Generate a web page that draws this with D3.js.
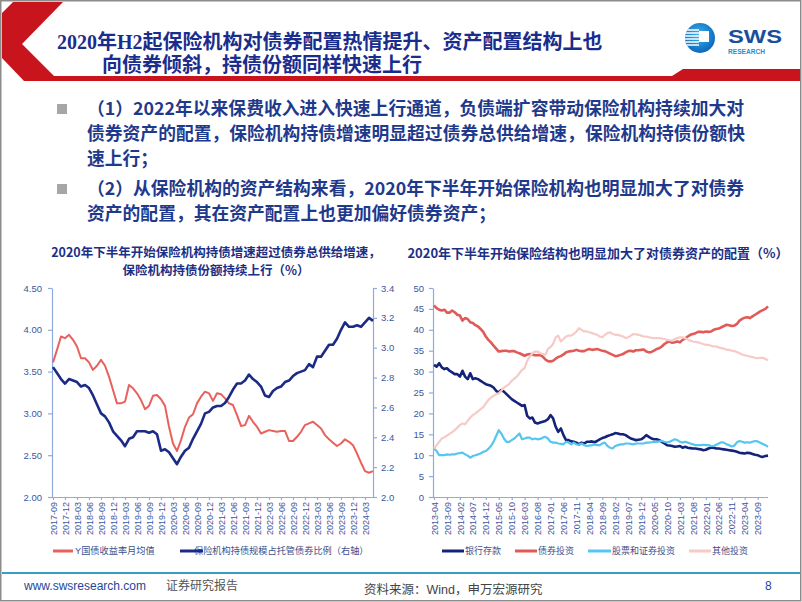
<!DOCTYPE html>
<html><head><meta charset="utf-8">
<script src="https://cdn.jsdelivr.net/npm/d3@7"></script>
<style>
html,body{margin:0;padding:0;background:#fff;}
svg{display:block;}
</style></head><body>
<svg id="c" width="802" height="602" font-family="'Liberation Sans','Noto Sans CJK SC',sans-serif"></svg>
<script>
// ---------------- DATA ----------------
const titleLines = ["2020年H2起保险机构对债券配置热情提升、资产配置结构上也", "向债券倾斜，持债份额同样快速上行"];
const bullet1 = ["（1）2022年以来保费收入进入快速上行通道，负债端扩容带动保险机构持续加大对",
                 "债券资产的配置，保险机构持债增速明显超过债券总供给增速，保险机构持债份额快",
                 "速上行；"];
const bullet2 = ["（2）从保险机构的资产结构来看，2020年下半年开始保险机构也明显加大了对债券",
                 "资产的配置，其在资产配置上也更加偏好债券资产；"];
const leftTitle = ["2020年下半年开始保险机构持债增速超过债券总供给增速，", "保险机构持债份额持续上行（%）"];
const rightTitle = "2020年下半年开始保险结构也明显加大了对债券资产的配置（%）";

const fmtMonth = d3.timeFormat("%Y-%m");
// left chart categories: monthly 2017-09 .. 2024-05
const leftMonths = d3.range(81).map(i => fmtMonth(new Date(2017, 8 + i, 1)));
// right chart categories: monthly 2013-04 .. 2024-01
const rightMonths = d3.range(130).map(i => fmtMonth(new Date(2013, 3 + i, 1)));

const leftSeriesNames = ["Y国债收益率月均值", "保险机构持债规模占托管债券比例（右轴）"];
const cgbYield = [3.61,3.76,3.92,3.90,3.94,3.88,3.80,3.66,3.66,3.61,
  3.52,3.57,3.64,3.57,3.44,3.28,3.12,3.12,3.14,3.34,
  3.30,3.24,3.16,3.05,3.09,3.21,3.22,3.17,3.09,2.84,
  2.64,2.55,2.68,2.84,2.95,2.99,3.12,3.20,3.26,3.24,
  3.15,3.24,3.23,3.18,3.12,3.10,2.98,2.85,2.86,2.97,
  2.90,2.84,2.76,2.78,2.80,2.79,2.78,2.79,2.79,2.67,
  2.67,2.72,2.78,2.86,2.88,2.90,2.86,2.82,2.74,2.69,
  2.65,2.61,2.64,2.69,2.66,2.62,2.52,2.41,2.31,2.29,2.31];
const insurerShare = [2.87,2.83,2.79,2.76,2.79,2.78,2.77,2.74,2.75,2.73,
  2.68,2.62,2.56,2.54,2.50,2.44,2.41,2.38,2.34,2.39,
  2.40,2.44,2.44,2.44,2.43,2.44,2.42,2.31,2.32,2.30,
  2.26,2.22,2.27,2.31,2.33,2.39,2.44,2.49,2.56,2.57,
  2.60,2.61,2.61,2.63,2.67,2.72,2.76,2.76,2.78,2.82,
  2.79,2.77,2.74,2.68,2.67,2.71,2.73,2.74,2.77,2.78,
  2.81,2.83,2.84,2.85,2.89,2.87,2.94,2.94,2.98,3.02,
  3.02,3.06,3.12,3.17,3.14,3.14,3.15,3.14,3.17,3.20,3.18];
const leftTicks = [2.0,2.5,3.0,3.5,4.0,4.5];
const rightAxisTicks = [2.0,2.2,2.4,2.6,2.8,3.0,3.2,3.4];

const rightSeriesNames = ["银行存款", "债券投资", "股票和证券投资", "其他投资"];
const bankDeposit = [31.6,31.2,32.0,31.0,30.6,30.8,30.2,29.8,29.4,29.4,
  28.8,30.2,28.8,28.2,29.6,28.2,28.4,28.2,27.8,27.4,
  27.0,26.8,26.6,26.2,25.4,25.0,25.6,25.2,24.6,24.0,
  23.4,23.0,22.6,22.2,21.8,22.0,19.4,18.8,19.0,17.8,
  17.6,17.8,18.0,18.2,18.6,19.6,18.8,16.8,15.6,16.4,
  14.8,13.6,13.6,13.3,13.2,13.0,12.6,13.0,12.8,13.2,
  13.2,13.3,13.1,13.4,13.8,14.1,14.3,14.6,14.8,15.0,
  15.3,15.2,15.0,15.0,14.8,14.4,14.0,13.8,13.6,13.7,
  13.8,14.2,14.8,14.4,14.0,13.8,13.8,13.6,13.2,12.8,
  12.4,12.3,12.2,12.0,12.1,12.2,11.8,12.0,11.8,11.7,
  11.6,11.6,11.5,11.4,11.2,11.3,11.6,11.8,11.8,11.6,
  11.6,11.5,11.4,11.3,11.2,11.1,11.0,10.8,10.6,10.5,
  10.4,10.6,10.5,10.3,10.1,10.0,9.7,9.6,9.8,9.9];
const bondInvest = [45.8,45.2,44.8,44.6,44.8,44.1,44.1,44.6,44.2,43.6,
  43.4,42.2,42.8,42.6,41.8,41.6,41.1,40.8,40.2,39.5,
  38.4,37.6,37.0,36.2,35.5,34.8,34.9,35.0,35.0,34.8,
  34.9,34.9,34.6,34.4,34.1,33.8,34.1,34.2,34.1,33.9,
  33.9,34.0,33.6,32.9,32.5,32.4,32.6,33.1,33.5,33.7,
  34.1,34.6,34.8,34.9,35.0,35.2,35.0,34.9,34.9,35.2,
  35.4,35.2,35.3,35.4,35.2,35.0,34.9,34.6,34.3,34.0,
  33.7,33.8,34.0,34.2,34.6,34.9,35.0,34.8,35.1,35.1,
  35.2,35.3,34.8,34.6,34.7,35.0,35.4,35.6,36.0,36.6,
  37.0,37.2,36.9,37.0,37.2,37.0,37.6,37.9,38.4,38.8,
  39.0,39.2,39.5,39.5,39.4,39.6,39.5,39.6,40.0,40.2,
  40.3,40.6,40.9,41.2,41.1,40.9,41.0,41.4,42.2,42.6,
  42.9,43.0,42.8,43.2,43.6,44.0,44.4,44.7,45.0,45.6];
const stockInvest = [11.6,11.0,10.0,10.0,10.0,10.2,10.1,10.2,10.2,10.4,
  10.5,10.6,10.2,9.9,9.4,9.8,10.0,10.2,10.4,10.8,
  11.0,11.5,12.2,13.2,14.6,16.0,15.2,14.0,13.2,13.2,
  13.6,14.0,14.6,15.2,13.8,14.0,14.2,14.2,13.8,14.0,
  13.8,13.9,14.2,14.4,14.0,13.2,13.0,13.0,12.8,12.7,
  12.6,13.2,13.0,12.6,13.0,12.6,12.5,12.8,12.4,12.2,
  12.3,12.4,12.6,12.4,12.4,12.8,13.0,12.2,11.8,11.6,
  12.2,12.4,12.6,12.6,12.8,12.8,12.7,12.6,12.8,12.8,
  12.8,12.8,13.0,13.0,13.1,13.2,13.2,13.3,13.4,13.2,
  13.1,13.2,13.5,13.8,13.6,13.2,13.0,13.2,13.0,12.8,
  12.6,12.4,12.4,12.4,12.5,12.4,12.4,12.2,12.2,12.5,
  12.8,13.1,13.0,12.6,12.4,12.1,12.3,13.1,13.4,13.2,
  13.0,13.1,13.0,13.2,13.4,13.3,13.0,12.7,12.4,12.0];
const otherInvest = [11.6,12.4,13.2,14.0,14.3,14.7,15.1,15.5,16.0,16.6,
  17.2,17.6,17.4,18.2,19.0,19.6,20.0,20.5,21.0,21.5,
  22.4,23.2,23.8,24.2,24.6,24.8,25.4,26.2,26.6,27.0,
  27.8,28.3,28.8,29.6,30.4,30.8,32.6,33.6,34.4,34.8,
  34.8,34.4,34.2,34.0,35.4,35.9,36.6,38.2,38.6,37.2,
  37.8,38.4,38.6,38.6,39.0,39.6,40.4,40.0,39.6,39.6,
  39.4,39.2,39.0,38.8,38.4,38.2,38.8,39.2,39.4,39.0,
  38.8,38.8,38.6,38.4,38.0,38.2,38.6,39.0,38.9,38.8,
  38.6,38.4,38.4,38.2,38.1,38.0,38.0,38.0,37.9,37.8,
  37.6,37.5,37.4,37.8,38.0,38.2,38.2,38.0,37.7,37.4,
  37.2,37.1,37.0,36.8,36.6,36.4,36.4,36.2,36.0,36.0,
  35.8,35.6,35.5,35.2,35.2,35.0,34.9,34.7,34.4,34.1,
  33.9,33.8,33.6,33.5,33.3,33.2,33.3,33.3,33.0,32.7];
const rightTicks = [0,5,10,15,20,25,30,35,40,45,50];

// ---------------- DRAW ----------------
const svg = d3.select("#c");
const navyText = "#1c2f86";
const tickColor = "#3d56a0";
const axisColor = "#8faadc";
const cjk = "'Noto Sans CJK SC',sans-serif";

// slide border
svg.append("rect").attr("x",0.75).attr("y",0.75).attr("width",800).attr("height",600)
  .attr("fill","#fff").attr("stroke","#8c8c8c").attr("stroke-width",1.5);

// header red shape
svg.append("path")
  .attr("d", d3.line()([[13,2],[63,2],[22,44],[54,76],[672,76],[683,69],[800,69],[800,81],[24,81],[2,58],[2,13]]) + "Z")
  .attr("fill","#c8141c");

// title
titleLines.forEach((t,i) => svg.append("text").attr("x", i===0 ? 57 : 102).attr("y", 49 + i*23).text(t)
  .style("font-family","'Liberation Serif','Noto Sans CJK SC',serif").attr("font-weight","bold")
  .attr("font-size",20).attr("fill","#1a2d8c"));

// logo
const defs = svg.append("defs");
const rg = defs.append("radialGradient").attr("id","lg").attr("cx","45%").attr("cy","40%").attr("r","60%");
rg.append("stop").attr("offset","0%").attr("stop-color","#3fb4ee");
rg.append("stop").attr("offset","100%").attr("stop-color","#0b68bd");
defs.append("clipPath").attr("id","logoclip").append("circle").attr("cx",700).attr("cy",38).attr("r",15);
svg.append("circle").attr("cx",700).attr("cy",38).attr("r",15).attr("fill","url(#lg)");
const lgG = svg.append("g").attr("clip-path","url(#logoclip)");
[30,33,36,39,42,45].forEach(y => lgG.append("line").attr("x1",684).attr("x2",699).attr("y1",y).attr("y2",y)
  .attr("stroke","#fff").attr("stroke-width",1.3));
lgG.append("rect").attr("x",699).attr("y",31).attr("width",10).attr("height",11).attr("fill","#fff");
svg.append("text").attr("x",728).attr("y",43).text("SWS").attr("font-weight","bold").attr("font-size",19)
  .attr("textLength",54).attr("lengthAdjust","spacingAndGlyphs").attr("fill","#1a4f9c");
svg.append("text").attr("x",728).attr("y",54).text("RESEARCH").attr("font-weight","bold").attr("font-size",6.5)
  .attr("textLength",37).attr("lengthAdjust","spacingAndGlyphs").attr("fill","#1e8fd6");

// bullets
function bullet(lines, y0) {
  svg.append("rect").attr("x",57).attr("y",y0-5).attr("width",10).attr("height",10).attr("fill","#a6a6a6");
  lines.forEach((t,i) => svg.append("text").attr("x",87).attr("y",y0+i*25).attr("dy","0.36em")
    .text(t).attr("font-size",17.8).attr("font-weight","bold").attr("fill","#1f3a8c")
    .style("font-family",cjk));
}
bullet(bullet1, 109);
bullet(bullet2, 189);

// chart titles
leftTitle.forEach((t,i) => svg.append("text").attr("x",216).attr("y",252+i*18.4).attr("dy","0.36em")
  .attr("text-anchor","middle").text(t).attr("font-size",12.5).attr("font-weight","bold").attr("fill",navyText)
  .style("font-family",cjk));
svg.append("text").attr("x",598).attr("y",253).attr("dy","0.36em").attr("text-anchor","middle")
  .text(rightTitle).attr("font-size",13).attr("font-weight","bold").attr("fill",navyText)
  .style("font-family",cjk);

function styleAxis(g) {
  g.selectAll("path, line").attr("stroke",axisColor).attr("stroke-width",1.2);
  g.selectAll("text").attr("fill",tickColor).attr("font-size",9.5)
    .style("font-family","'Liberation Sans',Arial,sans-serif");
}

// ---------- left chart ----------
const xL = d3.scalePoint().domain(leftMonths).range([53,373]);
const yL = d3.scaleLinear().domain([2,4.5]).range([497,288]);
const yR = d3.scaleLinear().domain([2,3.4]).range([497,288]);

svg.append("g").attr("transform","translate(52,0)")
  .call(d3.axisLeft(yL).tickValues(leftTicks).tickFormat(d3.format(".2f")).tickSize(4).tickSizeOuter(0).tickPadding(6))
  .call(styleAxis);
svg.append("g").attr("transform","translate(373,0)")
  .call(d3.axisRight(yR).tickValues(rightAxisTicks).tickFormat(d3.format(".1f")).tickSize(4).tickSizeOuter(0).tickPadding(4))
  .call(styleAxis);
const gxL = svg.append("g").attr("transform","translate(0,497)")
  .call(d3.axisBottom(xL).tickValues(leftMonths.filter((d,i)=>i%3===0)).tickSize(3).tickSizeOuter(0))
  .call(styleAxis);
gxL.select(".domain").attr("d","M52,0.5H373");
gxL.selectAll("text").attr("transform","rotate(-90)").attr("text-anchor","end")
  .attr("x",-5).attr("y",0).attr("dy","0.35em").attr("font-size",9);

svg.append("path").datum(cgbYield)
  .attr("d", d3.line().x((d,i)=>xL(leftMonths[i])).y(d=>yL(d)))
  .attr("fill","none").attr("stroke","#e9615d").attr("stroke-width",2).attr("stroke-linejoin","round");
svg.append("path").datum(insurerShare)
  .attr("d", d3.line().x((d,i)=>xL(leftMonths[i])).y(d=>yR(d)))
  .attr("fill","none").attr("stroke","#1b2a84").attr("stroke-width",2.6).attr("stroke-linejoin","round");

// left legend
const legL = [{name:leftSeriesNames[0], color:"#e9615d", x1:53, x2:73, tx:75},
              {name:leftSeriesNames[1], color:"#1b2a84", x1:180, x2:203, tx:194}];
legL.forEach(l => {
  svg.append("text").attr("x",l.tx).attr("y",551).attr("dy","0.36em").text(l.name)
    .attr("font-size",9.2).attr("fill","#3d4f8a");
  svg.append("line").attr("x1",l.x1).attr("x2",l.x2).attr("y1",551).attr("y2",551)
    .attr("stroke",l.color).attr("stroke-width",3);
});

// ---------- right chart ----------
const xR = d3.scalePoint().domain(rightMonths).range([434,768]);
const yP = d3.scaleLinear().domain([0,50]).range([497,288]);
svg.append("g").attr("transform","translate(433,0)")
  .call(d3.axisLeft(yP).tickValues(rightTicks).tickSize(4).tickSizeOuter(0).tickPadding(5))
  .call(styleAxis);
const gxR = svg.append("g").attr("transform","translate(0,497)")
  .call(d3.axisBottom(xR).tickValues(rightMonths.filter((d,i)=>i%5===0)).tickSize(3).tickSizeOuter(0))
  .call(styleAxis);
gxR.select(".domain").attr("d","M433,0.5H768");
gxR.selectAll("text").attr("transform","rotate(-90)").attr("text-anchor","end")
  .attr("x",-5).attr("y",0).attr("dy","0.35em").attr("font-size",9);

const rightSeries = [
  {vals: bankDeposit, color:"#14237a", w:2.6},
  {vals: bondInvest, color:"#e05a58", w:2.6},
  {vals: stockInvest, color:"#55c6f0", w:2.2},
  {vals: otherInvest, color:"#f6cac7", w:2.2}
];
rightSeries.forEach(s => svg.append("path").datum(s.vals)
  .attr("d", d3.line().x((d,i)=>xR(rightMonths[i])).y(d=>yP(d)))
  .attr("fill","none").attr("stroke",s.color).attr("stroke-width",s.w).attr("stroke-linejoin","round"));

const legR = [{x1:442,x2:464,tx:465},{x1:515,x2:537,tx:538},{x1:588,x2:611,tx:612},{x1:689,x2:711,tx:712}];
legR.forEach((l,i) => {
  svg.append("line").attr("x1",l.x1).attr("x2",l.x2).attr("y1",551).attr("y2",551)
    .attr("stroke",rightSeries[i].color).attr("stroke-width",3);
  svg.append("text").attr("x",l.tx).attr("y",551).attr("dy","0.36em").text(rightSeriesNames[i])
    .attr("font-size",9).attr("fill","#3d4f8a");
});

// footer
svg.append("line").attr("x1",2).attr("x2",800).attr("y1",573).attr("y2",573)
  .attr("stroke","#3a9dc8").attr("stroke-width",2);
svg.append("text").attr("x",24).attr("y",586).attr("dy","0.36em").text("www.swsresearch.com")
  .attr("font-size",12).attr("fill","#24469a");
svg.append("text").attr("x",166).attr("y",586).attr("dy","0.36em").text("证券研究报告")
  .attr("font-size",12).attr("fill","#555");
svg.append("text").attr("x",364).attr("y",589).attr("dy","0.36em").text("资料来源：Wind，申万宏源研究")
  .attr("font-size",12.5).attr("fill","#444");
svg.append("text").attr("x",765).attr("y",586).attr("dy","0.36em").text("8")
  .attr("font-size",12).attr("fill","#24469a");
</script></body></html>
